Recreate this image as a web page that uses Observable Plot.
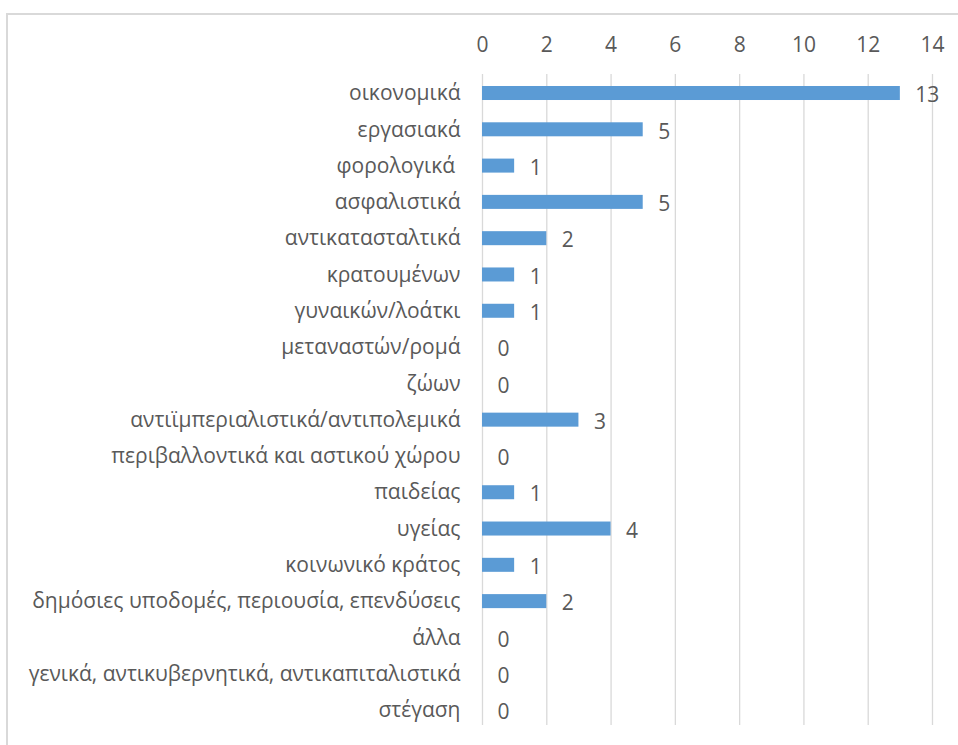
<!DOCTYPE html>
<html>
<head>
<meta charset="utf-8">
<script src="https://cdn.jsdelivr.net/npm/d3@7"></script>
<script src="https://cdn.jsdelivr.net/npm/@observablehq/plot@0.6"></script>
<style>
  html, body { margin: 0; padding: 0; background: #fff; overflow: hidden; }
  #wrap { position: relative; width: 958px; height: 745px; }
  #border { position: absolute; left: 6px; top: 13px; width: 1000px; height: 800px; border: 2px solid #d9d9d9; box-sizing: border-box; pointer-events: none; }
  #chart { position: absolute; left: 0; top: 0; }
</style>
</head>
<body>
<div id="wrap">
  <div id="chart"></div>
  <div id="border"></div>
</div>
<script>
const categories = [
  "οικονομικά",
  "εργασιακά",
  "φορολογικά\u00a0",
  "ασφαλιστικά",
  "αντικατασταλτικά",
  "κρατουμένων",
  "γυναικών/λοάτκι",
  "μεταναστών/ρομά",
  "ζώων",
  "αντιϊμπεριαλιστικά/αντιπολεμικά",
  "περιβαλλοντικά και αστικού χώρου",
  "παιδείας",
  "υγείας",
  "κοινωνικό κράτος",
  "δημόσιες υποδομές, περιουσία, επενδύσεις",
  "άλλα",
  "γενικά, αντικυβερνητικά, αντικαπιταλιστικά",
  "στέγαση"
];
const values = [13, 5, 1, 5, 2, 1, 1, 0, 0, 3, 0, 1, 4, 1, 2, 0, 0, 0];
const xTicks = [0, 2, 4, 6, 8, 10, 12, 14];

const data = categories.map((c, i) => ({category: c, value: values[i]}));

const font = "'Open Sans', Lato, sans-serif";
const textColor = "#595959";
const fs = 21;

const chart = Plot.plot({
  width: 958,
  height: 745,
  marginTop: 74,
  marginBottom: 20,
  marginLeft: 482,
  marginRight: 26,
  style: {fontFamily: font, fontSize: fs + "px", color: textColor, background: "transparent"},
  x: {domain: [0, 14], ticks: xTicks},
  y: {domain: categories, range: [86, 717], paddingInner: 0.614, paddingOuter: 0, round: false},
  marks: [
    Plot.gridX(xTicks, {stroke: "#d9d9d9", strokeOpacity: 1, strokeWidth: 1.3}),
    Plot.axisX({anchor: "top", ticks: xTicks, tickSize: 0, tickPadding: 23, label: null, fontSize: fs, fill: textColor}),
    Plot.axisY({tickSize: 0, tickPadding: 22, label: null, fontSize: fs, fill: textColor}),
    Plot.barX(data, {x: "value", y: "category", fill: "#5b9bd5"}),
    Plot.text(data, {x: "value", y: "category", text: d => String(d.value), textAnchor: "start", dx: 15, dy: 2, fontSize: fs, fill: textColor})
  ]
});
document.getElementById("chart").appendChild(chart);
</script>
</body>
</html>
